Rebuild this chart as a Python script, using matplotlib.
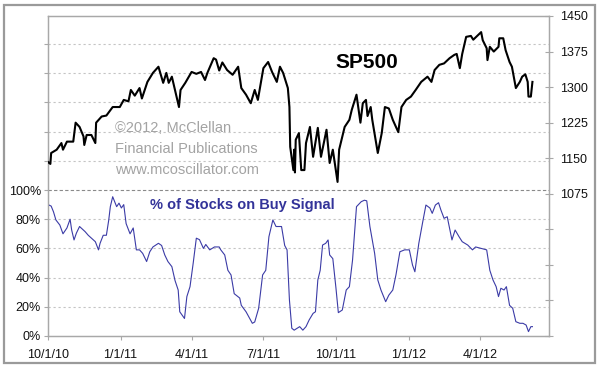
import matplotlib
matplotlib.use("Agg")
import matplotlib.pyplot as plt
import matplotlib.dates as mdates
from matplotlib.patches import Rectangle
import numpy as np
import pandas as pd

plt.rcParams['font.family'] = ['Liberation Sans', 'DejaVu Sans']

# ---- data ----
sp_dates = ["2010-10-01","2010-10-04","2010-10-05","2010-10-12","2010-10-18","2010-10-20","2010-10-25",
            "2010-11-02","2010-11-05","2010-11-10","2010-11-15","2010-11-16","2010-11-19","2010-11-25",
            "2010-11-30","2010-12-01","2010-12-08","2010-12-14","2010-12-22","2010-12-31","2011-01-05",
            "2011-01-11","2011-01-14","2011-01-19","2011-01-25","2011-01-28","2011-02-04","2011-02-11",
            "2011-02-18","2011-02-24","2011-02-28","2011-03-03","2011-03-07","2011-03-11","2011-03-16",
            "2011-03-18","2011-03-24","2011-04-01","2011-04-07","2011-04-13","2011-04-18","2011-04-21",
            "2011-04-29","2011-05-02","2011-05-06","2011-05-10","2011-05-16","2011-05-23","2011-05-30",
            "2011-06-03","2011-06-09","2011-06-15","2011-06-20","2011-06-24","2011-07-01","2011-07-07",
            "2011-07-12","2011-07-18","2011-07-22","2011-07-26","2011-08-01","2011-08-03","2011-08-04",
            "2011-08-08","2011-08-09","2011-08-10","2011-08-11","2011-08-15","2011-08-18","2011-08-22",
            "2011-08-24","2011-08-29","2011-09-02","2011-09-08","2011-09-12","2011-09-19","2011-09-23",
            "2011-09-27","2011-10-03","2011-10-05","2011-10-12","2011-10-18","2011-10-21","2011-10-27",
            "2011-11-01","2011-11-04","2011-11-08","2011-11-10","2011-11-14","2011-11-16","2011-11-23",
            "2011-11-28","2011-12-02","2011-12-07","2011-12-12","2011-12-19","2011-12-23","2011-12-29",
            "2012-01-04","2012-01-10","2012-01-17","2012-01-25","2012-01-30","2012-02-03","2012-02-09",
            "2012-02-15","2012-02-22","2012-02-28","2012-03-02","2012-03-06","2012-03-09","2012-03-14",
            "2012-03-20","2012-03-23","2012-04-02","2012-04-04","2012-04-09","2012-04-10","2012-04-13",
            "2012-04-18","2012-04-24","2012-04-25","2012-04-30","2012-05-03","2012-05-08","2012-05-11",
            "2012-05-16","2012-05-21","2012-05-24","2012-05-28","2012-05-31","2012-06-01","2012-06-04",
            "2012-06-06"]
sp_values = [1142,1138,1161,1168,1182,1168,1185,
             1185,1225,1216,1196,1178,1199,1199,
             1182,1225,1238,1240,1258,1258,1273,
             1270,1294,1282,1298,1276,1311,1330,
             1343,1309,1330,1309,1322,1294,1258,
             1294,1309,1332,1328,1332,1315,1330,
             1361,1358,1335,1352,1336,1326,1343,
             1298,1284,1266,1294,1273,1340,1353,
             1332,1311,1343,1330,1298,1258,1174,
             1125,1168,1120,1189,1203,1125,1125,
             1182,1216,1153,1214,1153,1210,1140,
             1168,1100,1168,1216,1231,1252,1284,
             1225,1266,1273,1239,1258,1231,1161,
             1203,1258,1255,1231,1205,1258,1273,
             1280,1294,1311,1322,1311,1336,1347,
             1350,1361,1368,1370,1340,1370,1406,
             1408,1400,1416,1399,1382,1357,1385,
             1375,1385,1403,1403,1378,1353,1343,
             1298,1311,1322,1327,1311,1280,1280,
             1311]

buy_dates = ["2010-10-01","2010-10-05","2010-10-08","2010-10-11","2010-10-16","2010-10-20","2010-10-25",
             "2010-10-29","2010-10-31","2010-11-03","2010-11-06","2010-11-10","2010-11-17","2010-11-21",
             "2010-11-25","2010-11-30","2010-12-04","2010-12-06","2010-12-10","2010-12-14","2010-12-17",
             "2010-12-19","2010-12-22","2010-12-27","2010-12-30","2011-01-02","2011-01-05","2011-01-08",
             "2011-01-13","2011-01-17","2011-01-21","2011-01-25","2011-01-29","2011-02-03","2011-02-07",
             "2011-02-11","2011-02-18","2011-02-22","2011-02-26","2011-03-02","2011-03-07","2011-03-11",
             "2011-03-15","2011-03-17","2011-03-23","2011-03-26","2011-03-30","2011-04-03","2011-04-07",
             "2011-04-11","2011-04-16","2011-04-19","2011-04-24","2011-04-30","2011-05-06","2011-05-08",
             "2011-05-13","2011-05-17","2011-05-21","2011-05-25","2011-06-01","2011-06-03","2011-06-09",
             "2011-06-17","2011-06-20","2011-06-25","2011-06-30","2011-07-04","2011-07-08","2011-07-13",
             "2011-07-17","2011-07-24","2011-07-28","2011-07-31","2011-08-03","2011-08-06","2011-08-09",
             "2011-08-16","2011-08-20","2011-08-24","2011-08-28","2011-09-02","2011-09-05","2011-09-08",
             "2011-09-11","2011-09-14","2011-09-18","2011-09-21","2011-09-23","2011-09-27","2011-10-01",
             "2011-10-04","2011-10-09","2011-10-14","2011-10-18","2011-10-22","2011-10-27","2011-11-02",
             "2011-11-06","2011-11-09","2011-11-13","2011-11-19","2011-11-23","2011-11-27","2011-12-03",
             "2011-12-07","2011-12-12","2011-12-16","2011-12-21","2011-12-27","2012-01-02","2012-01-06",
             "2012-01-09","2012-01-14","2012-01-19","2012-01-23","2012-01-28","2012-01-31","2012-02-04",
             "2012-02-08","2012-02-11","2012-02-15","2012-02-19","2012-02-25","2012-02-29","2012-03-05",
             "2012-03-09","2012-03-16","2012-03-22","2012-03-26","2012-04-02","2012-04-09","2012-04-13",
             "2012-04-17","2012-04-21","2012-04-24","2012-04-27","2012-05-01","2012-05-04","2012-05-08",
             "2012-05-12","2012-05-16","2012-05-21","2012-05-25","2012-05-29","2012-06-01","2012-06-04",
             "2012-06-06"]
buy_values = [90,89,85,79.5,76,70,74,
              80,72.6,65.8,70.5,75,71.5,69,
              67,64.6,59,63.5,69,69,79.5,
              88.6,95.4,88.6,91,87.7,90,77,
              70,74,59,59,56.6,51,57.7,
              61,63.5,62,55.5,51,47.5,38,
              31.5,16.6,12,27,33.8,49.8,67,
              66,60,62.7,59,61,61,59,
              55.5,45,41.8,29,26,21,16.6,
              8.7,9.6,19,41.8,45,68,79.5,
              75,75,62,59,24.7,5.3,4,
              6.4,4,6.4,11,15.5,16.6,38.4,
              45,62.3,63.5,65.8,55.5,53,32.7,
              16,17.8,31.5,33.8,52,88.6,92,
              93,92.6,75,56.6,38.4,31.5,23.5,
              28,31.5,41.8,57.7,59,59,48.6,
              44,63.5,78.3,89.7,87.7,84,89.7,
              91.3,86.3,80.6,81.7,65.8,72.6,68,
              64.6,62.3,59,61,60,59,45,
              38.4,33.8,27,32.7,31.5,33.8,21,
              19,9.8,8.7,8.7,7.5,3,6.4,
              6.4]

x_tick_dates = ["2010-10-01","2011-01-01","2011-04-01","2011-07-01","2011-10-01","2012-01-01","2012-04-01"]
x_tick_labels = ["10/1/10","1/1/11","4/1/11","7/1/11","10/1/11","1/1/12","4/1/12"]
pct_ticks = [0, 20, 40, 60, 80, 100, 120, 140, 160, 180, 200]
pct_labels = ["0%", "20%", "40%", "60%", "80%", "100%", "", "", "", "", ""]
sp_ticks = [775, 850, 925, 1000, 1075, 1150, 1225, 1300, 1375, 1450]
sp_labels = ["", "", "", "", "1075", "1150", "1225", "1300", "1375", "1450"]

# ---- figure ----
fig = plt.figure(figsize=(6.0, 3.7), dpi=100)
fig.patch.set_facecolor('white')
ax = fig.add_axes([48/600, 1-336/370, 501/600, 320/370])
ax2 = ax.twinx()

spine_col = '#a8a8a8'
for a in (ax, ax2):
    for s in a.spines.values():
        s.set_color(spine_col)
        s.set_linewidth(0.9)

bd = pd.to_datetime(buy_dates)
sd = pd.to_datetime(sp_dates)

ax.plot(bd, buy_values, color='#3b3ba6', lw=0.8, zorder=3)
ax.set_ylim(0, 219.2)
ax.set_yticks(pct_ticks)
ax.set_yticklabels(pct_labels)
ax.tick_params(axis='y', direction='out', length=3, width=0.8, color=spine_col,
               labelsize=9, pad=2, labelcolor='#111111')
ax.grid(axis='y', color='#c4c4c4', linestyle=(0, (2, 2.5)), linewidth=0.8)
gl = ax.get_ygridlines()
gl[5].set_color('#8a8a8a')
gl[5].set_linestyle((0, (3, 2)))
gl[0].set_visible(False)

ax.set_xlim(pd.Timestamp("2010-10-01"), pd.Timestamp("2012-06-27"))
ax.set_xticks(pd.to_datetime(x_tick_dates))
ax.set_xticklabels(x_tick_labels)
ax.tick_params(axis='x', direction='out', length=3, width=0.8, color=spine_col,
               labelsize=9, pad=6, labelcolor='#111111')

ax2.plot(sd, sp_values, color='black', lw=1.5, zorder=4)
ax2.set_ylim(775, 1450)
ax2.set_yticks(sp_ticks)
ax2.set_yticklabels(sp_labels)
ax2.tick_params(axis='y', direction='inout', length=6, width=0.8, color=spine_col,
                labelsize=9, pad=5, labelcolor='#111111')

# texts
ax.text(0.637, 0.856, "SP500", transform=ax.transAxes, fontsize=15, fontweight='bold',
        ha='center', va='center', color='black', zorder=5)
ax.text(0.2036, 0.409, "% of Stocks on Buy Signal", transform=ax.transAxes, fontsize=10.5,
        fontweight='bold', ha='left', va='center', color='#333399', zorder=5)
wm_col = '#a3a3a3'
ax.text(0.1337, 0.65, "\u00a92012, McClellan", transform=ax.transAxes, fontsize=10.5,
        ha='left', va='center', color=wm_col, zorder=1)
ax.text(0.1337, 0.584, "Financial Publications", transform=ax.transAxes, fontsize=10.5,
        ha='left', va='center', color=wm_col, zorder=1)
ax.text(0.1337, 0.519, "www.mcoscillator.com", transform=ax.transAxes, fontsize=10.5,
        ha='left', va='center', color=wm_col, zorder=1)

# outer frame
fig.add_artist(Rectangle((4/600, 1-363/370), 591/600, 358/370, fill=False,
                         edgecolor='#9a9a9a', lw=1.6, transform=fig.transFigure))

fig.savefig("out.png", dpi=100)
